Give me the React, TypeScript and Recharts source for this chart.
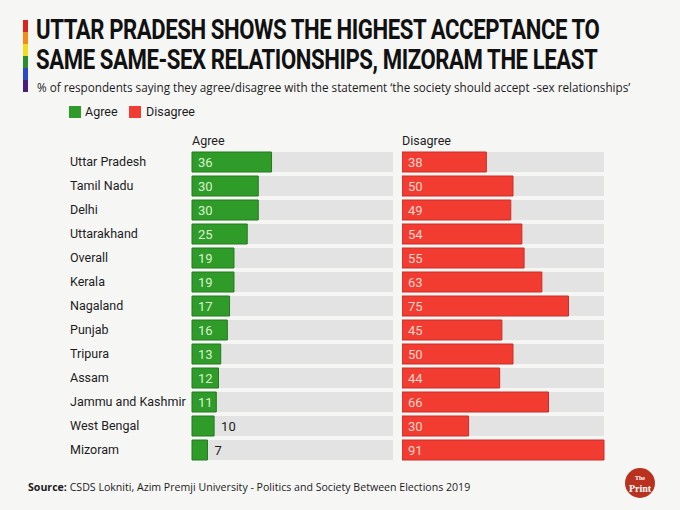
import { BarChart, Bar, XAxis, YAxis, LabelList } from 'recharts';

const states = [
  'Uttar Pradesh', 'Tamil Nadu', 'Delhi', 'Uttarakhand', 'Overall', 'Kerala', 'Nagaland',
  'Punjab', 'Tripura', 'Assam', 'Jammu and Kashmir', 'West Bengal', 'Mizoram',
];
const agree = [36, 30, 30, 25, 19, 19, 17, 16, 13, 12, 11, 10, 7];
const disagree = [38, 50, 49, 54, 55, 63, 75, 45, 50, 44, 66, 30, 91];
const rainbow = ['#d7261e', '#f28a1c', '#f2dc1c', '#2c8c2e', '#2b49c8', '#4a1f7a'];

const data = states.map((state, i) => ({ state, agree: agree[i], disagree: disagree[i] }));

const GREEN = '#2f9b29';
const RED = '#f23b31';
const TRACK = '#e3e3e3';

function StateTick(props: any) {
  const { y, payload } = props;
  return (
    <text x={70} y={y} dy={4} fontSize={12.5} fill="#1d1d1d" fontFamily="Roboto, sans-serif">
      {payload.value}
    </text>
  );
}

function makeLabel(insideColor: string) {
  return (props: any) => {
    const { x, y, width, height, value } = props;
    const inside = value >= 11;
    return (
      <text
        x={inside ? x + 6 : x + width + 7}
        y={y + height / 2}
        dy={4.5}
        fontSize={13}
        fontFamily="Roboto, sans-serif"
        fill={inside ? insideColor : '#1d1d1d'}
      >
        {value}
      </text>
    );
  };
}

const titleStyle = {
  position: 'absolute' as const,
  left: 36,
  fontFamily: 'Roboto, sans-serif',
  fontWeight: 700,
  fontSize: 27,
  lineHeight: '27px',
  letterSpacing: -0.5,
  color: '#111',
  whiteSpace: 'nowrap' as const,
  transform: 'scaleX(0.82)',
  transformOrigin: 'left top',
};

export default function App() {
  return (
    <div
      style={{
        position: 'absolute',
        left: 0,
        top: 0,
        width: 680,
        height: 510,
        background: '#f6f6f5',
        overflow: 'hidden',
        fontFamily: 'Roboto, sans-serif',
        color: '#1d1d1d',
      }}
    >
      {/* rainbow stripe */}
      <div style={{ position: 'absolute', left: 23, top: 20, width: 5, height: 72 }}>
        {rainbow.map((c) => (
          <div key={c} style={{ height: 12, background: c }} />
        ))}
      </div>
      <div style={{ ...titleStyle, top: 17 }}>UTTAR PRADESH SHOWS THE HIGHEST ACCEPTANCE TO</div>
      <div style={{ ...titleStyle, top: 47 }}>SAME SAME-SEX RELATIONSHIPS, MIZORAM THE LEAST</div>
      <div
        style={{
          position: 'absolute',
          left: 37,
          top: 79,
          fontSize: 11.7,
          fontFamily: "'Open Sans', sans-serif",
          whiteSpace: 'nowrap',
        }}
      >
        % of respondents saying they agree/disagree with the statement ‘the society should accept -sex relationships’
      </div>

      {/* legend */}
      <div style={{ position: 'absolute', left: 69, top: 106, width: 12, height: 12, background: GREEN }} />
      <div style={{ position: 'absolute', left: 85, top: 104, fontSize: 12.5 }}>Agree</div>
      <div style={{ position: 'absolute', left: 129, top: 106, width: 12, height: 12, background: RED }} />
      <div style={{ position: 'absolute', left: 146, top: 104, fontSize: 12.5 }}>Disagree</div>

      <div style={{ position: 'absolute', left: 192, top: 133, fontSize: 12.5 }}>Agree</div>
      <div style={{ position: 'absolute', left: 402, top: 133, fontSize: 12.5 }}>Disagree</div>

      <div style={{ position: 'absolute', left: 0, top: 140 }}>
        <BarChart
          width={398}
          height={322}
          data={data}
          layout="vertical"
          margin={{ top: 10, right: 5, bottom: 0, left: 0 }}
          barSize={20}
        >
          <XAxis type="number" domain={[0, 91]} hide />
          <YAxis
            type="category"
            dataKey="state"
            width={192}
            axisLine={false}
            tickLine={false}
            tick={<StateTick />}
            interval={0}
          />
          <Bar
            dataKey="agree"
            fill={GREEN}
            stroke="#237a1f"
            strokeWidth={1}
            background={{ fill: TRACK }}
            isAnimationActive={false}
          >
            <LabelList dataKey="agree" content={makeLabel('#d8f3cf')} />
          </Bar>
        </BarChart>
      </div>

      <div style={{ position: 'absolute', left: 402, top: 140 }}>
        <BarChart
          width={212}
          height={322}
          data={data}
          layout="vertical"
          margin={{ top: 10, right: 10, bottom: 0, left: 0 }}
          barSize={20}
        >
          <XAxis type="number" domain={[0, 91]} hide />
          <YAxis type="category" dataKey="state" hide />
          <Bar
            dataKey="disagree"
            fill={RED}
            stroke="#c92e26"
            strokeWidth={1}
            background={{ fill: TRACK }}
            isAnimationActive={false}
          >
            <LabelList dataKey="disagree" content={makeLabel('#ffd6cc')} />
          </Bar>
        </BarChart>
      </div>

      <div
        style={{
          position: 'absolute',
          left: 28,
          top: 480,
          fontSize: 10.6,
          fontFamily: "'Open Sans', sans-serif",
          whiteSpace: 'nowrap',
        }}
      >
        <b>Source:</b> CSDS Lokniti, Azim Premji University - Politics and Society Between Elections 2019
      </div>

      {/* ThePrint badge */}
      <div
        style={{
          position: 'absolute',
          left: 625,
          top: 468,
          width: 30,
          height: 30,
          borderRadius: 15,
          background: '#b8321f',
          color: '#fff',
          textAlign: 'center',
          fontFamily: "'Liberation Serif', serif",
          fontWeight: 700,
          lineHeight: '8px',
        }}
      >
        <div style={{ fontSize: 6, paddingTop: 6 }}>The</div>
        <div style={{ fontSize: 10, paddingTop: 3 }}>Print</div>
      </div>
    </div>
  );
}
